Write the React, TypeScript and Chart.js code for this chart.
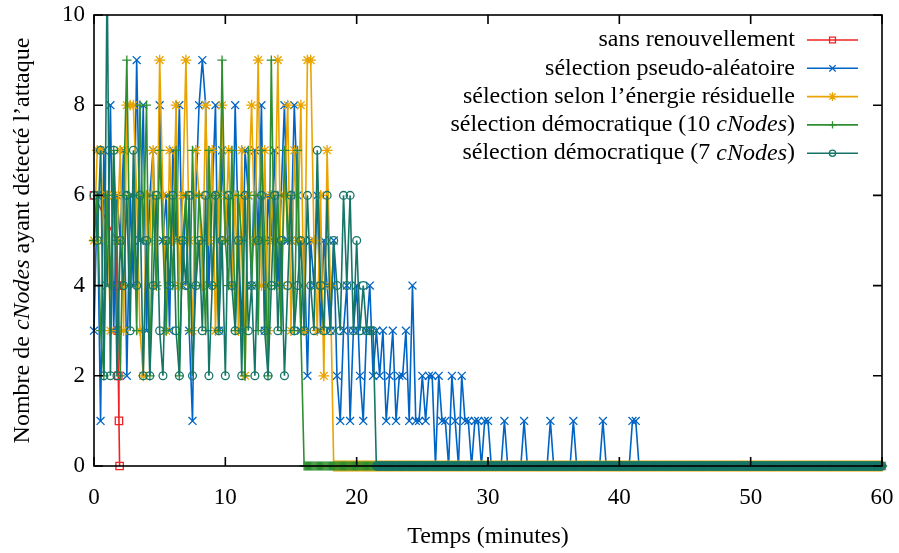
import React, { useEffect, useRef } from 'react';
import { Chart, registerables } from 'chart.js';

Chart.register(...registerables);

// ---------- data ----------
const STEP = 0.25; // minutes between two samples while the attack is detected
const TAIL_STEP = 1 / 12; // denser logging once the count has dropped to zero
const END_TIME = 60;
const X_TICKS = [0, 10, 20, 30, 40, 50, 60];
const Y_TICKS = [0, 2, 4, 6, 8, 10];
const X_TITLE = 'Temps (minutes)';
const Y_TITLE = 'Nombre de *cNodes* ayant détecté l’attaque';

const SERIES_LABELS = [
  'sans renouvellement',
  'sélection pseudo-aléatoire',
  'sélection selon l’énergie résiduelle',
  'sélection démocratique (10 *cNodes*)',
  'sélection démocratique (7 *cNodes*)',
];
const SERIES_COLORS = ['#ee2222', '#0064c4', '#e9a400', '#2e8f30', '#157567'];
const SERIES_MARKERS = ['rect', 'crossRot', 'star', 'cross', 'circle'];

// sans renouvellement (irregular sampling)
const sansRenouvellementTimes = [0, 1.7, 1.75, 1.8, 1.85, 1.9, 1.95];
const sansRenouvellementValues = [6, 5, 4, 3, 2, 1, 0];

// sampled every STEP minutes from t = 0; afterwards 0 until END_TIME
const pseudoAleatoire = [
  3, 6, 1, 7, 4, 8, 3, 6, 5, 7, 2, 6,
  4, 9, 5, 8, 3, 6, 7, 4, 8, 5, 6, 3,
  7, 5, 8, 4, 6, 3, 1, 6, 8, 9, 8, 4,
  6, 8, 3, 7, 5, 6, 4, 8, 5, 3, 7, 6,
  4, 7, 5, 8, 3, 6, 5, 7, 4, 6, 8, 5,
  5, 8, 6, 3, 5, 2, 5, 4, 6, 3, 5, 4,
  3, 5, 2, 1, 3, 4, 1, 3, 4, 2, 1, 3,
  4, 2, 3, 2, 3, 1, 2, 3, 1, 2, 2, 3,
  1, 4, 1, 1, 2, 1, 2, 2, 0, 2, 1, 1,
  0, 2, 1, 0, 2, 1, 1, 0, 1, 1, 0, 1,
  1, 0, 0, 0, 0, 1, 0, 0, 0, 0, 0, 1,
  0, 0, 0, 0, 0, 0, 0, 1, 0, 0, 0, 0,
  0, 0, 1, 0, 0, 0, 0, 0, 0, 0, 0, 1,
  0, 0, 0, 0, 0, 0, 0, 0, 1, 1, 0,
];

const energieResiduelle = [
  5, 7, 7, 5, 6, 3, 6, 5, 7, 3, 8, 8,
  8, 6, 3, 2, 6, 5, 7, 4, 9, 6, 3, 7,
  5, 8, 4, 6, 9, 5, 3, 7, 6, 4, 8, 5,
  7, 3, 6, 8, 5, 7, 4, 6, 3, 7, 2, 6,
  8, 5, 9, 4, 7, 3, 6, 5, 9, 4, 6, 8,
  3, 7, 5, 8, 3, 9, 9, 5, 3, 6, 2, 7,
  4, 0,
];

const democratique10 = [
  5, 6, 3, 2, 6, 4, 7, 5, 2, 6, 9, 4,
  6, 3, 8, 5, 8, 2, 6, 4, 7, 5, 3, 6,
  4, 7, 2, 5, 6, 3, 7, 4, 6, 5, 3, 7,
  4, 6, 3, 9, 5, 4, 7, 3, 6, 5, 2, 7,
  4, 6, 3, 7, 5, 2, 9, 4, 6, 3, 7, 5,
  6, 3, 7, 3, 0,
];

const democratique7 = [
  6, 5, 7, 2, 11, 2, 7, 2, 5, 4, 6, 3,
  7, 4, 6, 2, 5, 2, 4, 6, 3, 2, 5, 4,
  6, 3, 2, 5, 4, 6, 2, 4, 5, 3, 6, 2,
  4, 6, 3, 5, 2, 6, 4, 3, 5, 2, 6, 3,
  4, 2, 5, 6, 3, 2, 4, 6, 3, 5, 2, 4,
  6, 3, 4, 5, 3, 6, 4, 3, 7, 4, 3, 6,
  3, 5, 4, 3, 6, 4, 6, 3, 5, 3, 4, 3,
  3, 3, 0,
];

// ---------- helpers ----------
const FONT = '"Liberation Serif", "Times New Roman", serif';
const TICK_SIZE = 23;
const TEXT_SIZE = 24;

function sampled(values: number[]) {
  const pts = values.map((v, i) => ({ x: i * STEP, y: v }));
  const last = (values.length - 1) * STEP;
  const n = Math.floor((END_TIME - last) / TAIL_STEP + 1e-9);
  for (let k = 1; k <= n; k++) pts.push({ x: last + k * TAIL_STEP, y: 0 });
  return pts;
}

function drawMarker(ctx: CanvasRenderingContext2D, style: string, x: number, y: number, r: number) {
  ctx.beginPath();
  const d = r * Math.SQRT1_2;
  if (style === 'rect') {
    ctx.rect(x - d, y - d, 2 * d, 2 * d);
  } else if (style === 'circle') {
    ctx.arc(x, y, r, 0, Math.PI * 2);
  } else {
    if (style === 'cross' || style === 'star') {
      ctx.moveTo(x - r, y); ctx.lineTo(x + r, y);
      ctx.moveTo(x, y - r); ctx.lineTo(x, y + r);
    }
    if (style === 'crossRot' || style === 'star') {
      ctx.moveTo(x - d, y - d); ctx.lineTo(x + d, y + d);
      ctx.moveTo(x - d, y + d); ctx.lineTo(x + d, y - d);
    }
  }
  ctx.stroke();
}

function parts(text: string) {
  return text.split('*').map((t, i) => ({ t, italic: i % 2 === 1 })).filter((p) => p.t.length);
}
function fontFor(italic: boolean) {
  return `${italic ? 'italic ' : ''}${TEXT_SIZE}px ${FONT}`;
}
function measureRich(ctx: CanvasRenderingContext2D, text: string) {
  let w = 0;
  for (const p of parts(text)) {
    ctx.font = fontFor(p.italic);
    w += ctx.measureText(p.t).width;
  }
  return w;
}
function drawRich(ctx: CanvasRenderingContext2D, text: string, x: number, y: number) {
  let cx = x;
  ctx.textAlign = 'left';
  ctx.textBaseline = 'middle';
  for (const p of parts(text)) {
    ctx.font = fontFor(p.italic);
    ctx.fillText(p.t, cx, y);
    cx += ctx.measureText(p.t).width;
  }
}

const RADII = [5.2, 5.6, 5.4, 4.6, 3.9];

const framePlugin = {
  id: 'gnuplotFrame',
  afterDraw(chart: any) {
    const { ctx, chartArea: a, scales } = chart;
    const xs = scales.x;
    const ys = scales.y;
    ctx.save();
    ctx.strokeStyle = '#000';
    ctx.lineWidth = 1.6;
    ctx.strokeRect(a.left, a.top, a.right - a.left, a.bottom - a.top);
    const tl = 9;
    ctx.beginPath();
    for (const v of X_TICKS) {
      const px = xs.getPixelForValue(v);
      ctx.moveTo(px, a.bottom); ctx.lineTo(px, a.bottom - tl);
      ctx.moveTo(px, a.top); ctx.lineTo(px, a.top + tl);
    }
    for (const v of Y_TICKS) {
      const py = ys.getPixelForValue(v);
      ctx.moveTo(a.left, py); ctx.lineTo(a.left + tl, py);
      ctx.moveTo(a.right, py); ctx.lineTo(a.right - tl, py);
    }
    ctx.stroke();

    // legend
    ctx.fillStyle = '#000';
    const textRight = 795;
    const row0 = 40;
    const rowH = 28.3;
    SERIES_LABELS.forEach((label, i) => {
      const y = row0 + i * rowH;
      const w = measureRich(ctx, label);
      drawRich(ctx, label, textRight - w, y);
      ctx.strokeStyle = SERIES_COLORS[i];
      ctx.lineWidth = 1.6;
      ctx.beginPath();
      ctx.moveTo(807, y); ctx.lineTo(858, y);
      ctx.stroke();
      ctx.lineWidth = 1.3;
      drawMarker(ctx, SERIES_MARKERS[i], 832.5, y, RADII[i] * 0.8);
    });

    // axis titles
    ctx.fillStyle = '#000';
    const xw = measureRich(ctx, X_TITLE);
    drawRich(ctx, X_TITLE, (a.left + a.right) / 2 - xw / 2, 537);
    ctx.translate(23, (a.top + a.bottom) / 2);
    ctx.rotate(-Math.PI / 2);
    const yw = measureRich(ctx, Y_TITLE);
    drawRich(ctx, Y_TITLE, -yw / 2, 0);
    ctx.restore();
  },
};

export default function App() {
  const ref = useRef<HTMLCanvasElement>(null);
  useEffect(() => {
    const series = [
      sansRenouvellementTimes.map((t, i) => ({ x: t, y: sansRenouvellementValues[i] })),
      sampled(pseudoAleatoire),
      sampled(energieResiduelle),
      sampled(democratique10),
      sampled(democratique7),
    ];
    const datasets = series
      .map((data, i) => ({
        label: SERIES_LABELS[i],
        data,
        borderColor: SERIES_COLORS[i],
        backgroundColor: SERIES_COLORS[i],
        borderWidth: 1.6,
        pointStyle: SERIES_MARKERS[i],
        pointRadius: RADII[i],
        pointBorderColor: SERIES_COLORS[i],
        pointBackgroundColor: 'rgba(0,0,0,0)',
        pointBorderWidth: 1.3,
        tension: 0,
        fill: false,
        clip: { left: 10, right: 10, top: 0, bottom: 10 },
      }))
      .reverse(); // first dataset is drawn on top in Chart.js; gnuplot draws last on top
    const tickFont = { family: FONT, size: TICK_SIZE };
    const chart = new Chart(ref.current as HTMLCanvasElement, {
      type: 'line',
      data: { datasets: datasets as any },
      options: {
        responsive: false,
        animation: false,
        events: [],
        layout: { padding: { top: 15, right: 17, left: 0, bottom: 0 } },
        plugins: { legend: { display: false }, tooltip: { enabled: false } },
        scales: {
          x: {
            type: 'linear',
            min: 0,
            max: 60,
            afterFit: (s: any) => { s.height = 87; s.paddingLeft = 0; s.paddingRight = 0; },
            afterBuildTicks: (s: any) => { s.ticks = X_TICKS.map((v) => ({ value: v })); },
            grid: { display: false, drawTicks: false },
            border: { display: false },
            ticks: { font: tickFont, color: '#000', padding: 18, maxRotation: 0, autoSkip: false },
          },
          y: {
            type: 'linear',
            min: 0,
            max: 10,
            afterFit: (s: any) => { s.width = 94; s.paddingTop = 0; s.paddingBottom = 0; },
            afterBuildTicks: (s: any) => { s.ticks = Y_TICKS.map((v) => ({ value: v })); },
            grid: { display: false, drawTicks: false },
            border: { display: false },
            ticks: { font: tickFont, color: '#000', padding: 9, autoSkip: false },
          },
        },
      } as any,
      plugins: [framePlugin],
    });
    return () => chart.destroy();
  }, []);
  return (
    <div style={{ position: 'absolute', left: 0, top: 0, width: 899, height: 553, background: '#fff' }}>
      <canvas ref={ref} width={899} height={553} style={{ display: 'block' }} />
    </div>
  );
}
